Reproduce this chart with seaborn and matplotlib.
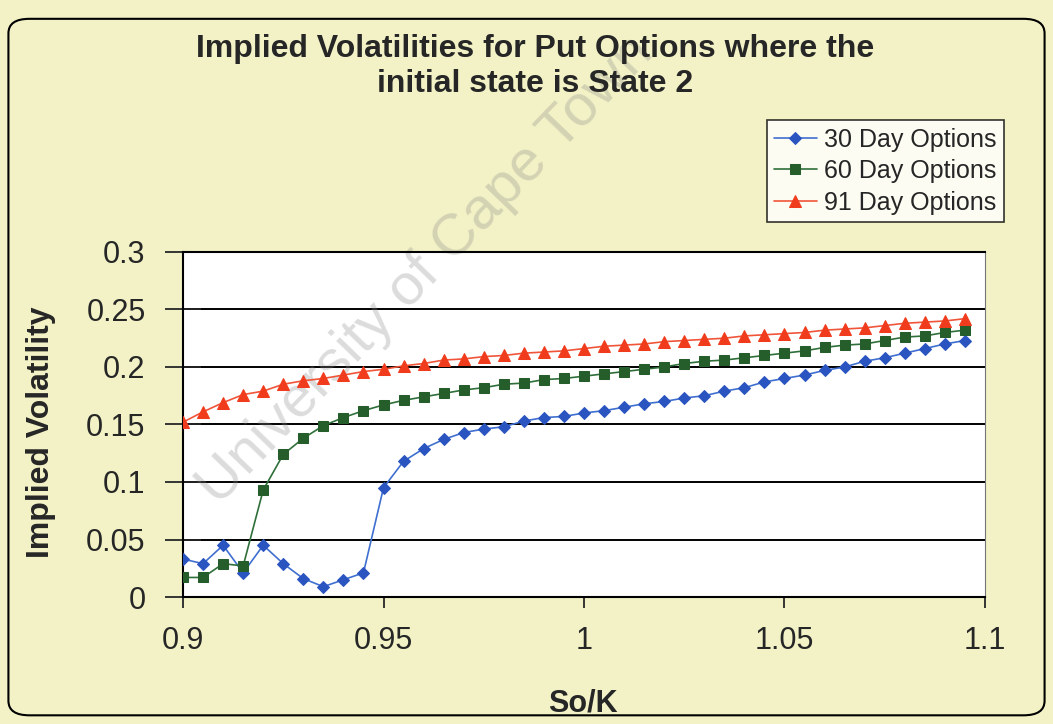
import matplotlib
matplotlib.use("Agg")
import matplotlib.pyplot as plt
from matplotlib.patches import FancyBboxPatch
import seaborn as sns
import pandas as pd

so_k = [round(0.9 + 0.005 * i, 3) for i in range(40)]

vol_30 = [0.033, 0.029, 0.045, 0.021, 0.045, 0.029, 0.016, 0.009, 0.015, 0.021,
          0.095, 0.118, 0.129, 0.137, 0.143, 0.146, 0.148, 0.153, 0.156, 0.157,
          0.160, 0.162, 0.165, 0.168, 0.170, 0.173, 0.175, 0.179, 0.182, 0.187,
          0.190, 0.193, 0.197, 0.200, 0.205, 0.208, 0.212, 0.216, 0.220, 0.223]
vol_60 = [0.017, 0.017, 0.029, 0.027, 0.093, 0.124, 0.138, 0.149, 0.156, 0.162,
          0.167, 0.171, 0.174, 0.177, 0.180, 0.182, 0.185, 0.186, 0.189, 0.190,
          0.192, 0.194, 0.196, 0.198, 0.200, 0.203, 0.205, 0.206, 0.208, 0.210,
          0.212, 0.214, 0.217, 0.219, 0.220, 0.223, 0.226, 0.227, 0.230, 0.232]
vol_91 = [0.152, 0.161, 0.169, 0.176, 0.179, 0.185, 0.188, 0.190, 0.193, 0.196,
          0.198, 0.201, 0.203, 0.206, 0.207, 0.209, 0.210, 0.212, 0.213, 0.214,
          0.216, 0.218, 0.219, 0.220, 0.222, 0.223, 0.224, 0.225, 0.227, 0.228,
          0.229, 0.230, 0.232, 0.233, 0.234, 0.236, 0.238, 0.239, 0.240, 0.242]

series = ["30 Day Options", "60 Day Options", "91 Day Options"]

df = pd.DataFrame({
    "So/K": so_k * 3,
    "vol": vol_30 + vol_60 + vol_91,
    "series": [series[0]] * 40 + [series[1]] * 40 + [series[2]] * 40,
})

line_cols = {series[0]: "#3f6fd0", series[1]: "#2f6f3a", series[2]: "#f0553a"}
mark_cols = ["#2a55c0", "#255e2a", "#f03c1c"]
markers = {series[0]: "D", series[1]: "s", series[2]: "^"}
msize = [6, 7, 8]

bg = "#f2f2c6"
sns.set_style("white")
plt.rcParams['font.family'] = ['Liberation Sans', 'DejaVu Sans']

fig = plt.figure(figsize=(10.53, 7.24), dpi=100, facecolor=bg)
ax = fig.add_axes([0.1738, 0.1754, 0.7616, 0.4766])
ax.set_facecolor("white")

# rounded outer frame
fig.patches.append(FancyBboxPatch((0.008, 0.012), 0.984, 0.962,
                                  boxstyle="round,pad=0,rounding_size=0.02",
                                  transform=fig.transFigure, fill=False,
                                  edgecolor="black", linewidth=1.5, zorder=0))

# watermark, behind the lines but over the plot background
ax.text(0.207, 0.30, "University of Cape Town", transform=fig.transFigure,
        fontsize=42, color="#8a8a8a", alpha=0.3, rotation=46,
        rotation_mode="anchor", ha="left", va="baseline", zorder=1.5,
        clip_on=False)

for i, s in enumerate(series):
    sns.lineplot(data=df[df["series"] == s], x="So/K", y="vol", ax=ax,
                 color=line_cols[s], marker=markers[s], markersize=msize[i],
                 markerfacecolor=mark_cols[i], markeredgecolor=mark_cols[i],
                 linewidth=1.2, label=s, legend=False, zorder=3)

ax.set_xlim(0.9, 1.1)
ax.set_ylim(0, 0.3)
ax.set_xticks([0.9, 0.95, 1.0, 1.05, 1.1])
ax.set_xticklabels(["0.9", "0.95", "1", "1.05", "1.1"])
ax.set_yticks([0, 0.05, 0.1, 0.15, 0.2, 0.25, 0.3])
ax.set_yticklabels(["0", "0.05", "0.1", "0.15", "0.2", "0.25", "0.3"])
ax.yaxis.grid(True, color="black", linewidth=1.4)
ax.set_axisbelow(True)
ax.tick_params(axis="y", direction="inout", length=26, width=1.3, labelsize=22, pad=14)
ax.tick_params(axis="x", direction="out", length=8, width=1.3, labelsize=22, pad=13)
ax.tick_params(left=True, bottom=True)
for side in ["left", "bottom", "top"]:
    ax.spines[side].set_color("black")
    ax.spines[side].set_linewidth(1.5)
ax.spines["right"].set_color("#777777")
ax.spines["right"].set_linewidth(0.8)

ax.set_xlabel("So/K", fontsize=22, fontweight="bold", va="top")
ax.xaxis.set_label_coords(0.499, -0.265)
ax.set_ylabel("Implied Volatility", fontsize=23, fontweight="bold")
ax.yaxis.set_label_coords(-0.158, 0.478)

fig.suptitle("Implied Volatilities for Put Options where the\ninitial state is State 2",
             x=0.508, y=0.953, fontsize=23, fontweight="bold", linespacing=1.2)

handles, labels = ax.get_legend_handles_labels()
leg = fig.legend(handles, labels, loc="upper right", bbox_to_anchor=(0.9535, 0.834),
                 bbox_transform=fig.transFigure, fontsize=18, frameon=True,
                 fancybox=False, edgecolor="black", handlelength=1.7,
                 borderpad=0.3, labelspacing=0.3, handletextpad=0.3,
                 borderaxespad=0)
leg.get_frame().set_linewidth(1.2)
leg.get_frame().set_facecolor("white")

fig.savefig("out.png", dpi=100, facecolor=bg)
